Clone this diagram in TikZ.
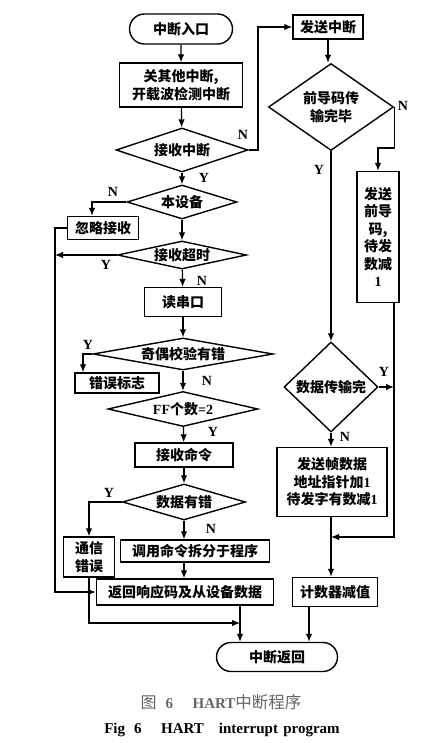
\documentclass[tikz,border=0pt]{standalone}
\usepackage{fontspec}
\setmainfont{Liberation Serif}
\newfontfamily\cjk{Noto Sans CJK SC}
\usepackage{tikz}
\usetikzlibrary{shapes, arrows.meta, positioning, calc}

\tikzset{
    box/.style={draw, line width=1.4pt, inner sep=1pt, align=center,
            font=\cjk\bfseries\fontsize{14}{17.5}\selectfont},
    term/.style={box, rounded rectangle},
    dec/.style={box, diamond, inner sep=0pt},
    yn/.style={inner sep=0pt, font=\bfseries\fontsize{14}{14}\selectfont},
    line/.style={line width=1.2pt},
    arr/.style={line, -{Latex[length=8pt,width=6.5pt]}},
}

\begin{document}
\begin{tikzpicture}[x=1pt, y=-1pt]
        \useasboundingbox (0,0) rectangle (444,743);

        % Receive side
        \node[term, minimum width=105, minimum height=30] (start) at (181,29) {中断入口};
        \node[box, minimum width=123, minimum height=44] (shut) at (181,85) {关其他中断,\\开载波检测中断};
        \node[dec, aspect=3, minimum width=132, minimum height=44] (recv) at (182,150) {接收中断};
        \node[dec, aspect=3.2, minimum width=110, minimum height=34] (dev) at (182,202) {本设备};
        \node[box, minimum width=71, minimum height=23] (ign) at (103,228) {忽略接收};
        \node[dec, aspect=4.6, minimum width=129, minimum height=28] (tout) at (182,255) {接收超时};
        \node[box, minimum width=77, minimum height=29] (rd) at (183,302) {读串口};
        \node[dec, aspect=5.6, minimum width=180, minimum height=32] (par) at (183,354) {奇偶校验有错};
        \node[box, minimum width=84, minimum height=20] (errf) at (117,383) {错误标志};
        \node[dec, aspect=4.3, minimum width=150, minimum height=35] (ff) at (183,409) {{\rmfamily FF}个数{\rmfamily =2}};
        \node[box, minimum width=98, minimum height=24] (cmd) at (184,455) {接收命令};
        \node[dec, aspect=3.4, minimum width=123, minimum height=36] (derr) at (184,502) {数据有错};
        \node[box, minimum width=51, minimum height=40] (comm) at (89,557) {通信\\错误};
        \node[box, minimum width=149, minimum height=22] (call) at (195,551) {调用命令拆分于程序};
        \node[box, minimum width=177, minimum height=26] (resp) at (185,592) {返回响应码及从设备数据};
        \node[term, minimum width=123, minimum height=29] (end) at (277,657) {中断返回};

        % Send side
        \node[box, minimum width=70, minimum height=24] (send) at (328,27) {发送中断};
        \node[dec, aspect=1.44, minimum width=125, minimum height=87] (pre) at (331,107) {前导码传\\输完毕};
        \node[box, minimum width=42, minimum height=131] (spre) at (378,237) {发送\\前导\\码,\\待发\\数减\\{\rmfamily 1}};
        \node[dec, aspect=1.04, minimum width=94, minimum height=90] (dat) at (331,387) {数据传输完};
        \node[box, minimum width=110, minimum height=69] (frm) at (332,482) {发送帧数据\\地址指针加{\rmfamily 1}\\待发字有数减{\rmfamily 1}};
        \node[box, minimum width=85, minimum height=29] (cnt) at (335,592) {计数器减值};

        % bend points
        \coordinate (rx) at (258,27);
        \coordinate (lx) at (55,592);
        \coordinate (jx) at (240,623);
        \coordinate (cx) at (309,623);
        \coordinate (rr) at (394,537);
        \coordinate (jr) at (331,537);

        % Receive flow
        \draw[arr] (start) -- (shut);
        \draw[arr] (shut) -- (recv);
        \draw[arr] (recv.east) -| (rx) -- (send.west);
        \draw[arr] (recv) -- (dev);
        \draw[arr] (dev.west) -| ($(ign.north)+(-11,0)$);
        \draw[arr] (dev) -- (tout);
        \draw[arr] (tout.west) -- (tout.west -| lx);
        \draw[arr] (tout) -- (rd);
        \draw[arr] (rd) -- (par);
        \draw[arr] (par.west) -| ($(errf.north)+(-34,0)$);
        \draw[arr] (par) -- (ff);
        \draw[arr] (ff) -- (cmd);
        \draw[arr] (cmd) -- (derr);
        \draw[arr] (derr.west) -| (comm.north);
        \draw[arr] (derr.south) -- (derr.south |- call.north);
        \draw[arr] (call.south -| derr.south) -- (resp.north -| derr.south);
        \draw[arr] (ign.west) -| (lx) -- (resp.west);
        \draw[arr] (comm.south) |- (jx);
        \draw[arr] (resp.south -| jx) -- (end.north -| jx);

        % Send flow
        \draw[arr] (send) -- (send |- pre.north);
        \draw[arr] (pre.east) -- ++(0,41) -| (spre.north);
        \draw[arr] (pre) -- (dat);
        \draw[arr] (spre.south -| rr) -- (rr) -- (jr);
        \draw[arr] (dat.east) -- (dat.east -| rr);
        \draw[arr] (dat.south) -- (dat.south |- frm.north);
        \draw[arr] (frm.south -| jr) -- (cnt.north -| jr);
        \draw[arr] (cnt.south -| cx) -- (end.north -| cx);

        % Y / N labels
        \node[yn] (nRecv) at (243,135) {N};
        \node[yn] (yRecv) at (204,178) {Y};
        \node[yn] (nDev) at (113,192) {N};
        \node[yn] (yTout) at (106,265) {Y};
        \node[yn] (nTout) at (202,281) {N};
        \node[yn] (yPar) at (88,345) {Y};
        \node[yn] (nPar) at (207,381) {N};
        \node[yn] (yFf) at (213,432) {Y};
        \node[yn] (yDerr) at (109,493) {Y};
        \node[yn] (nDerr) at (211,529) {N};
        \node[yn] (nPre) at (403,106) {N};
        \node[yn] (yPre) at (319,170) {Y};
        \node[yn] (yDat) at (384,372) {Y};
        \node[yn] (nDat) at (345,437) {N};

        % Caption
        \node[text=black!60, font=\fontsize{15}{15}\selectfont] (capCn) at (221,702)
            {{\cjk\fontsize{16}{16}\selectfont 图}\hspace{0.6em}{\bfseries 6}\hspace{1.3em}{\bfseries HART}{\cjk\fontsize{16.5}{16.5}\selectfont 中断程序}};
        \node[font=\bfseries\fontsize{15}{15}\selectfont] (capEn) at (222,730)
            {Fig\hspace{0.6em}6\hspace{1.3em}HART\hspace{1em}interrupt\hspace{0.35em}program};
\end{tikzpicture}
\end{document}
